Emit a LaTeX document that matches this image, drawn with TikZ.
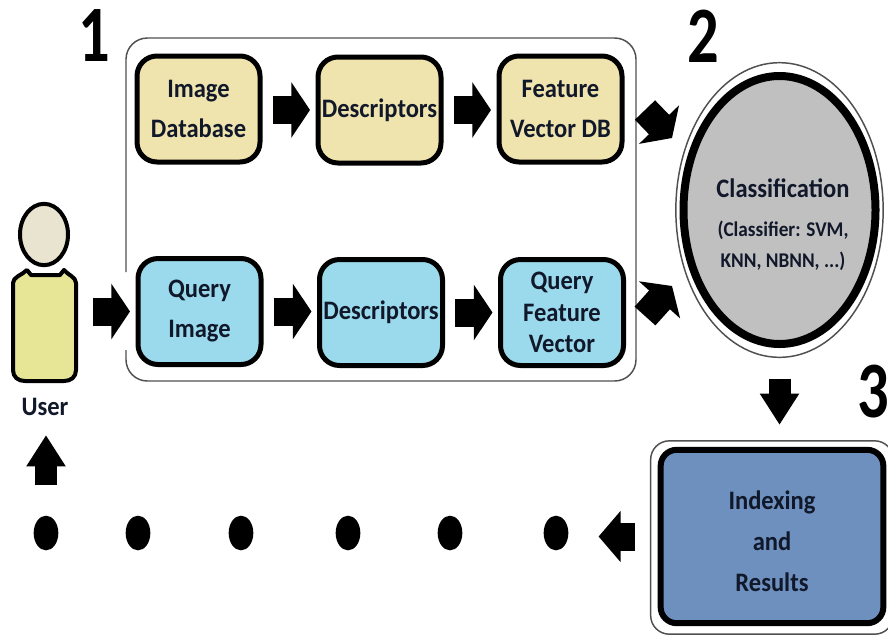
\documentclass[tikz,border=0pt]{standalone}
\usepackage{fontspec}
\setmainfont[FakeStretch=0.92]{Carlito}
\newfontfamily\digitfont[FakeStretch=0.78]{Carlito}
\usetikzlibrary{arrows.meta,shapes.geometric}
\definecolor{tanfill}{HTML}{F0E4AE}
\definecolor{skyfill}{HTML}{9BDAEC}
\definecolor{greyfill}{HTML}{C0C0C0}
\definecolor{bluefill}{HTML}{6E90BE}
\definecolor{bodyfill}{HTML}{E6E696}
\definecolor{headfill}{HTML}{E8E4D0}
\definecolor{inktext}{HTML}{10182A}
\definecolor{thinline}{HTML}{505050}
\tikzset{
  boxbase/.style={draw=black,line width=3.75pt,rounded corners=15pt,inner sep=0pt,outer sep=0pt,
    minimum width=92.25pt,minimum height=79.5pt,align=center,text=inktext,
    font=\fontsize{20}{30}\selectfont\bfseries},
  tanbox/.style={boxbase,fill=tanfill},
  skybox/.style={boxbase,fill=skyfill},
  fat/.style={line width=21pt,-{Triangle[length=14pt,width=41pt]},shorten <=9.4pt,shorten >=6pt},
  slimfat/.style={line width=16.5pt,-{Triangle[length=23.5pt,width=28pt]}},
  dot/.style={ellipse,fill=black,minimum width=18.5pt,minimum height=26pt,inner sep=0pt},
  digit/.style={font=\digitfont\fontsize{60}{60}\selectfont\bfseries,text=black,inner sep=0pt},
  thin outline/.style={draw=thinline,line width=1.1pt},
}
\begin{document}
\begin{tikzpicture}[x=0.75pt,y=-0.75pt]
\useasboundingbox (0,0) rectangle (888,637);
\fill[white] (0,0) rectangle (888,637);
% outer group frame, open where the user's arrow enters
\draw[thin outline,rounded corners=16pt] (126,272) -- (126,38) -- (636,38) -- (636,381) -- (126,381) -- (126,350);
% top row
\node[tanbox] (a1) at (198.5,109) {Image\\Database};
\node[tanbox] (a2) at (379.5,110) {Descriptors};
\node[tanbox] (a3) at (560.5,109) {Feature\\Vector DB};
% bottom row
\node[skybox] (b1) at (199.5,311.5) {Query\\Image};
\node[skybox] (b2) at (381,312.5) {Descriptors};
\node[skybox,font=\fontsize{20}{23.6}\selectfont\bfseries] (b3) at (562,312.5) {Query\\Feature\\Vector};
% classification
\node[ellipse,thin outline,fill=white,minimum width=155.5pt,minimum height=221pt,inner sep=0pt] (clsouter) at (779.5,210) {};
\node[ellipse,draw=black,line width=6pt,fill=greyfill,minimum width=144pt,minimum height=201pt,inner sep=0pt] (cls) at (779.5,210) {};
\node[font=\fontsize{20}{24}\selectfont\bfseries,text=inktext] (clst) at (783,188.5) {Classification};
\node[font=\fontsize{15.7}{23.5}\selectfont\bfseries,text=inktext,align=center] (clss) at (783,246) {(Classifier: SVM,\\KNN, NBNN, ...)};
% indexing
\node[thin outline,fill=white,rounded corners=14pt,minimum width=182pt,minimum height=145pt,inner sep=0pt] (idxouter) at (772,537.5) {};
\node[draw=black,line width=4.5pt,fill=bluefill,rounded corners=12pt,minimum width=167pt,minimum height=130pt,inner sep=0pt,outer sep=0pt] (idx) at (772,536.5) {};
\node[align=center,text=inktext,font=\fontsize{20}{30.75}\selectfont\bfseries] (idxt) at (772,541) {Indexing\\and\\Results};
% user
\node[ellipse,draw=black,line width=3pt,fill=headfill,minimum width=36pt,minimum height=46pt,inner sep=0pt] (head) at (44,234.5) {};
\node[inner sep=0pt,outer sep=0pt,minimum width=46pt,minimum height=84pt] (body) at (44,326) {};
\draw[black,line width=3pt,fill=bodyfill,line join=round]
  (13,283) .. controls (13,277) and (22,275) .. (27,270) -- (31,275) -- (60,275) -- (64,270)
  .. controls (68,275) and (76,277) .. (76,283) -- (76,370) .. controls (76,377) and (71,381) .. (64,381)
  -- (25,381) .. controls (18,381) and (13,377) .. (13,370) -- cycle;
\node[font=\fontsize{20}{24}\selectfont\bfseries,text=inktext] (user) at (45,407) {User};
% step numbers
\node[digit] (n1) at (94,36) {1};
\node[digit] (n2) at (703,36) {2};
\node[digit] (n3) at (873,392) {3};
% dots
\node[dot] (d1) at (46,533) {};
\node[dot] (d2) at (138,533) {};
\node[dot] (d3) at (241,533) {};
\node[dot] (d4) at (348,533) {};
\node[dot] (d5) at (450,533) {};
\node[dot] (d6) at (556,533) {};
% free arrow ends at the circle
\coordinate (t1) at (645,110);
\coordinate (h1) at (672,138);
\coordinate (t2) at (645,316);
\coordinate (h2) at (672,286);
% block arrows
\draw[fat] (a1.east |- a2.east) -- (a2.west);
\draw[fat] (a2.east) -- (a3.west |- a2.east);
\draw[fat] (b1.east) -- (b1.east -| b2.west);
\draw[fat] (b2.east) -- (b3.west);
\draw[fat,shorten <=13.7pt,shorten >=6pt] (body.east |- b1.west) -- (b1.west);
\draw[fat,shorten <=0pt,shorten >=0pt] (t1) -- (h1);
\draw[fat,shorten <=0pt,shorten >=0pt] (t2) -- (h2);
\draw[slimfat,shorten <=23pt,shorten >=18.75pt] (cls.south) -- (cls.south |- idx.north);
\draw[line width=21pt,-{Triangle[length=16.5pt,width=37.5pt]},shorten <=19.5pt,shorten >=22.5pt] (idx.west) -- (idx.west -| d6.east);
\draw[slimfat,shorten <=22.5pt,shorten >=11pt] (d1.north) -- (d1.north |- user.south);
\end{tikzpicture}
\end{document}
